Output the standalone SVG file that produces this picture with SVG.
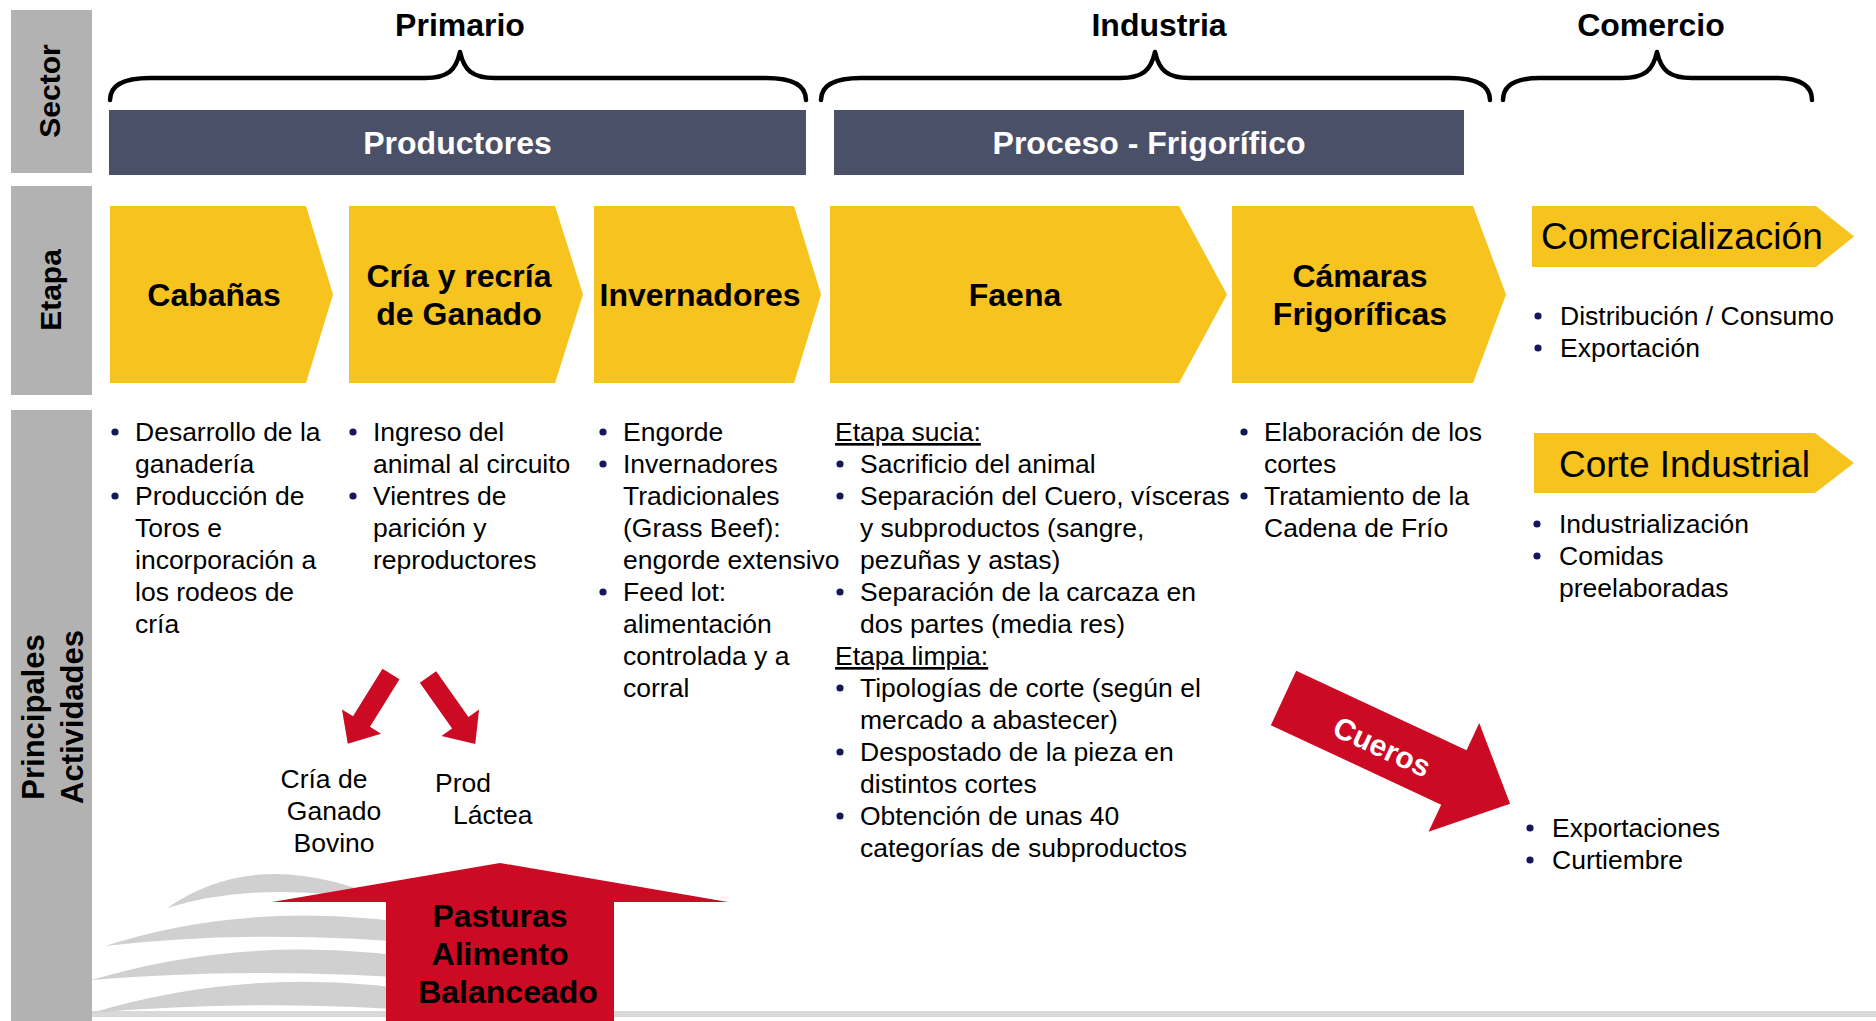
<svg xmlns="http://www.w3.org/2000/svg" width="1876" height="1021" viewBox="0 0 1876 1021">
<style>
text{font-family:"Liberation Sans",Arial,sans-serif;fill:#000}
.side{font-size:30px;font-weight:bold;text-anchor:middle}
.sec{font-size:32px;font-weight:bold;text-anchor:middle}
.bar{fill:#4b5069}
.bartxt{font-size:32px;font-weight:bold;text-anchor:middle;fill:#fff}
.chev{fill:#F6C31F}
.chtxt{font-size:32px;font-weight:bold;text-anchor:middle}
.chtxt2{font-size:37px}
.b{font-size:26.5px}
.ul{text-decoration:underline}
.dot{fill:#16165c}
.brace{fill:none;stroke:#000;stroke-width:4.5;stroke-linecap:round;stroke-linejoin:round}
.red{fill:#cc0a24}
.sw{fill:#d0d0d0}
</style>
<defs>
<circle id="bul" r="3.6" class="dot"/>
</defs>

<rect width="1876" height="1021" fill="#fff"/>

<!-- side labels -->
<g id="side-sector"><rect x="11" y="10" width="81" height="163" fill="#b2b2b2"/><text class="side" transform="translate(60,91) rotate(-90)">Sector</text></g>
<g id="side-etapa"><rect x="11" y="186" width="81" height="209" fill="#b2b2b2"/><text class="side" transform="translate(61,290) rotate(-90)">Etapa</text></g>
<g id="side-actividades"><rect x="11" y="410" width="81" height="611" fill="#b2b2b2"/><text class="side" style="font-size:31px" transform="translate(44,717) rotate(-90)">Principales</text><text class="side" style="font-size:31px" transform="translate(83,717) rotate(-90)">Actividades</text></g>

<!-- background decoration -->
<g id="decor">
<rect x="92" y="1011" width="1784" height="6" fill="#d9d9d9"/>
<path class="sw" d="M167,908 Q262,842 395,904 Q265,878 167,908 Z"/>
<path class="sw" d="M105,946 Q260,896 440,928 L440,945 Q260,928 105,946 Z"/>
<path class="sw" d="M91,980 Q260,930 440,962 L440,980 Q260,966 91,980 Z"/>
<path class="sw" d="M91,1013 Q260,962 440,994 L440,1012 Q260,998 91,1013 Z"/>
</g>

<!-- sectors with braces -->
<g id="sector-primario"><text class="sec" x="460" y="36">Primario</text>
<path class="brace" d="M110,100 C110,86 122,78 150,78 L425,78 C448,78 456,70 460,52 C464,70 472,78 495,78 L766,78 C794,78 806,86 806,100"/></g>
<g id="sector-industria"><text class="sec" x="1159" y="36">Industria</text>
<path class="brace" d="M821,100 C821,86 833,78 861,78 L1120,78 C1143,78 1151,70 1155,52 C1159,70 1167,78 1190,78 L1450,78 C1478,78 1490,86 1490,100"/></g>
<g id="sector-comercio"><text class="sec" x="1651" y="36">Comercio</text>
<path class="brace" d="M1503,100 C1503,86 1515,78 1540,78 L1622,78 C1645,78 1653,70 1657,52 C1661,70 1669,78 1692,78 L1775,78 C1800,78 1812,86 1812,100"/></g>

<!-- bars -->
<g id="bar-productores"><rect class="bar" x="109" y="110" width="697" height="65"/><text class="bartxt" x="457.5" y="154">Productores</text></g>
<g id="bar-proceso"><rect class="bar" x="834" y="110" width="630" height="65"/><text class="bartxt" x="1149" y="154">Proceso - Frigorífico</text></g>

<!-- stage chevrons -->
<g id="etapa-cabanas"><polygon class="chev" points="110,206 306,206 333,294.5 306,383 110,383"/><text class="chtxt" x="214" y="306">Cabañas</text></g>
<g id="etapa-cria"><polygon class="chev" points="349,206 555,206 583,294.5 555,383 349,383"/><text class="chtxt" x="459" y="287">Cría y recría</text><text class="chtxt" x="459" y="325">de Ganado</text></g>
<g id="etapa-invernadores"><polygon class="chev" points="594,206 794,206 821,294.5 794,383 594,383"/><text class="chtxt" x="700" y="306">Invernadores</text></g>
<g id="etapa-faena"><polygon class="chev" points="830,206 1179,206 1227,294.5 1179,383 830,383"/><text class="chtxt" x="1015" y="306">Faena</text></g>
<g id="etapa-camaras"><polygon class="chev" points="1232,206 1473,206 1506,294.5 1473,383 1232,383"/><text class="chtxt" x="1360" y="287">Cámaras</text><text class="chtxt" x="1360" y="325">Frigoríficas</text></g>
<g id="etapa-comercializacion"><polygon class="chev" points="1532,206 1816,206 1854,236.5 1816,267 1532,267"/><text class="chtxt2" x="1541" y="249">Comercialización</text></g>
<g id="etapa-corte"><polygon class="chev" points="1534,433 1815,433 1854,463 1815,493 1534,493"/><text class="chtxt2" x="1559" y="477">Corte Industrial</text></g>

<!-- activities -->
<g id="act-cabanas" class="b">
<use href="#bul" x="115" y="432"/><use href="#bul" x="115" y="496"/>
<text class="b" x="135" y="441">Desarrollo de la</text>
<text class="b" x="135" y="473">ganadería</text>
<text class="b" x="135" y="505">Producción de</text>
<text class="b" x="135" y="537">Toros e</text>
<text class="b" x="135" y="569">incorporación a</text>
<text class="b" x="135" y="601">los rodeos de</text>
<text class="b" x="135" y="633">cría</text>
</g>
<g id="act-cria">
<use href="#bul" x="353" y="432"/><use href="#bul" x="353" y="496"/>
<text class="b" x="373" y="441">Ingreso del</text>
<text class="b" x="373" y="473">animal al circuito</text>
<text class="b" x="373" y="505">Vientres de</text>
<text class="b" x="373" y="537">parición y</text>
<text class="b" x="373" y="569">reproductores</text>
</g>
<g id="act-invernadores">
<use href="#bul" x="603" y="432"/><use href="#bul" x="603" y="464"/><use href="#bul" x="603" y="592"/>
<text class="b" x="623" y="441">Engorde</text>
<text class="b" x="623" y="473">Invernadores</text>
<text class="b" x="623" y="505">Tradicionales</text>
<text class="b" x="623" y="537">(Grass Beef):</text>
<text class="b" x="623" y="569">engorde extensivo</text>
<text class="b" x="623" y="601">Feed lot:</text>
<text class="b" x="623" y="633">alimentación</text>
<text class="b" x="623" y="665">controlada y a</text>
<text class="b" x="623" y="697">corral</text>
</g>
<g id="act-faena">
<use href="#bul" x="840" y="464"/><use href="#bul" x="840" y="496"/><use href="#bul" x="840" y="592"/><use href="#bul" x="840" y="688"/><use href="#bul" x="840" y="752"/><use href="#bul" x="840" y="816"/>
<text class="b ul" x="835" y="441">Etapa sucia:</text>
<text class="b" x="860" y="473">Sacrificio del animal</text>
<text class="b" x="860" y="505">Separación del Cuero, vísceras</text>
<text class="b" x="860" y="537">y subproductos (sangre,</text>
<text class="b" x="860" y="569">pezuñas y astas)</text>
<text class="b" x="860" y="601">Separación de la carcaza en</text>
<text class="b" x="860" y="633">dos partes (media res)</text>
<text class="b ul" x="835" y="665">Etapa limpia:</text>
<text class="b" x="860" y="697">Tipologías de corte (según el</text>
<text class="b" x="860" y="729">mercado a abastecer)</text>
<text class="b" x="860" y="761">Despostado de la pieza en</text>
<text class="b" x="860" y="793">distintos cortes</text>
<text class="b" x="860" y="825">Obtención de unas 40</text>
<text class="b" x="860" y="857">categorías de subproductos</text>
</g>
<g id="act-camaras">
<use href="#bul" x="1244" y="432"/><use href="#bul" x="1244" y="496"/>
<text class="b" x="1264" y="441">Elaboración de los</text>
<text class="b" x="1264" y="473">cortes</text>
<text class="b" x="1264" y="505">Tratamiento de la</text>
<text class="b" x="1264" y="537">Cadena de Frío</text>
</g>
<g id="act-comercializacion">
<use href="#bul" x="1538" y="316"/><use href="#bul" x="1538" y="348"/>
<text class="b" x="1560" y="325">Distribución / Consumo</text>
<text class="b" x="1560" y="357">Exportación</text>
</g>
<g id="act-corte">
<use href="#bul" x="1537" y="524"/><use href="#bul" x="1537" y="556"/>
<text class="b" x="1559" y="533">Industrialización</text>
<text class="b" x="1559" y="565">Comidas</text>
<text class="b" x="1559" y="597">preelaboradas</text>
</g>
<g id="act-cueros">
<use href="#bul" x="1530" y="828"/><use href="#bul" x="1530" y="860"/>
<text class="b" x="1552" y="837">Exportaciones</text>
<text class="b" x="1552" y="869">Curtiembre</text>
</g>

<g id="label-cria-bovino">
<text class="b" x="324" y="788" text-anchor="middle">Cría de</text>
<text class="b" x="334" y="820" text-anchor="middle">Ganado</text>
<text class="b" x="334" y="852" text-anchor="middle">Bovino</text>
</g>
<g id="label-prod-lactea">
<text class="b" x="435" y="792">Prod</text>
<text class="b" x="453" y="824">Láctea</text>
</g>

<!-- connectors / arrows -->
<g id="connectors">
<polygon class="red" transform="translate(391,674) rotate(121.8)" points="0,-10 56,-10 56,-23 82,0 56,23 56,10 0,10"/>
<polygon class="red" transform="translate(428,677) rotate(54.8)" points="0,-10 56,-10 56,-23 82,0 56,23 56,10 0,10"/>
<g id="arrow-pasturas">
<polygon class="red" points="500,863 728,902 614,902 614,1021 386,1021 386,902 272,902"/>
<text class="chtxt" x="500" y="927">Pasturas</text>
<text class="chtxt" x="500" y="965">Alimento</text>
<text class="chtxt" x="508" y="1003">Balanceado</text>
</g>
<g id="arrow-cueros" transform="translate(1283.5,698) rotate(25)">
<polygon class="red" points="0,-30 188,-30 188,-60 250,0 188,60 188,30 0,30"/>
<text x="110" y="13" style="font-size:30px;font-weight:bold;fill:#fff;text-anchor:middle">Cueros</text>
</g>
</g>
</svg>
